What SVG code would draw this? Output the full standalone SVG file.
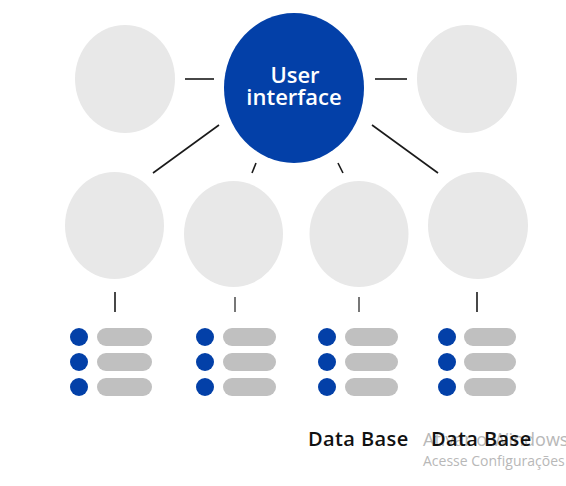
<svg xmlns="http://www.w3.org/2000/svg" width="566" height="486" viewBox="0 0 566 486">
<style>
.g{fill:#e8e8e8}
.hub{fill:#0340a8}
.ln{stroke:#1a1a1a;stroke-width:1.6;fill:none}
.lg{stroke:#555;stroke-width:1.6;fill:none}
.dot{fill:#0340a8}
.bar{fill:#c0c0c0}
.hubt{font-family:"Open Sans","Noto Sans",sans-serif;font-weight:600;font-size:22px;fill:#fff;text-anchor:middle}
.lbl{font-family:"Open Sans","Noto Sans",sans-serif;font-weight:600;font-size:20px;letter-spacing:0.4px;fill:#111}
.wm{font-family:"Open Sans","Noto Sans",sans-serif;font-size:14px;fill:#b8b8b8}
.wm1{font-size:18px}
</style>
<rect width="566" height="486" fill="#fff"/>
<g id="connectors">
<line class="ln" x1="185" y1="79" x2="214" y2="79"/>
<line class="ln" x1="375" y1="79" x2="407" y2="79"/>
<line class="ln" x1="219" y1="125" x2="153" y2="173"/>
<line class="ln" x1="372" y1="125" x2="438" y2="173"/>
<line class="ln" x1="256" y1="163" x2="252" y2="173"/>
<line class="ln" x1="338" y1="163" x2="343" y2="173"/>
<line class="ln" x1="115" y1="292" x2="115" y2="312"/>
<line class="lg" x1="235" y1="297" x2="235" y2="312"/>
<line class="lg" x1="359" y1="297" x2="359" y2="312"/>
<line class="ln" x1="477" y1="292" x2="477" y2="312"/>
</g>
<g id="node-top-left"><ellipse class="g" cx="125" cy="79" rx="50" ry="54"/></g>
<g id="node-top-right"><ellipse class="g" cx="467" cy="79" rx="50" ry="54"/></g>
<g id="node-user-interface">
<ellipse class="hub" cx="294" cy="88" rx="70" ry="75"/>
<text class="hubt" x="295" y="83">User</text>
<text class="hubt" x="294" y="105">interface</text>
</g>
<g id="node-mid-1"><ellipse class="g" cx="114.5" cy="225.5" rx="49.5" ry="53.5"/></g>
<g id="node-mid-2"><ellipse class="g" cx="233.5" cy="234" rx="49.5" ry="53"/></g>
<g id="node-mid-3"><ellipse class="g" cx="359" cy="234" rx="49.5" ry="53"/></g>
<g id="node-mid-4"><ellipse class="g" cx="478" cy="225.5" rx="50" ry="53.5"/></g>
<g id="list-1">
<circle class="dot" cx="79" cy="337" r="9"/><rect class="bar" x="97" y="328" width="55" height="18" rx="9"/>
<circle class="dot" cx="79" cy="362" r="9"/><rect class="bar" x="97" y="353" width="55" height="18" rx="9"/>
<circle class="dot" cx="79" cy="387" r="9"/><rect class="bar" x="97" y="378" width="55" height="18" rx="9"/>
</g>
<g id="list-2">
<circle class="dot" cx="205" cy="337" r="9"/><rect class="bar" x="223" y="328" width="53" height="18" rx="9"/>
<circle class="dot" cx="205" cy="362" r="9"/><rect class="bar" x="223" y="353" width="53" height="18" rx="9"/>
<circle class="dot" cx="205" cy="387" r="9"/><rect class="bar" x="223" y="378" width="53" height="18" rx="9"/>
</g>
<g id="list-3">
<circle class="dot" cx="327" cy="337" r="9"/><rect class="bar" x="345" y="328" width="53" height="18" rx="9"/>
<circle class="dot" cx="327" cy="362" r="9"/><rect class="bar" x="345" y="353" width="53" height="18" rx="9"/>
<circle class="dot" cx="327" cy="387" r="9"/><rect class="bar" x="345" y="378" width="53" height="18" rx="9"/>
</g>
<g id="list-4">
<circle class="dot" cx="447" cy="337" r="9"/><rect class="bar" x="464" y="328" width="52" height="18" rx="9"/>
<circle class="dot" cx="447" cy="362" r="9"/><rect class="bar" x="464" y="353" width="52" height="18" rx="9"/>
<circle class="dot" cx="447" cy="387" r="9"/><rect class="bar" x="464" y="378" width="52" height="18" rx="9"/>
</g>
<g id="watermark">
<text class="wm wm1" x="423" y="446">Ativar o Windows</text>
<text class="wm" x="423" y="466">Acesse Configurações</text>
</g>
<g id="labels">
<text class="lbl" x="308" y="446">Data Base</text>
<text class="lbl" x="431" y="446">Data Base</text>
</g>
</svg>
